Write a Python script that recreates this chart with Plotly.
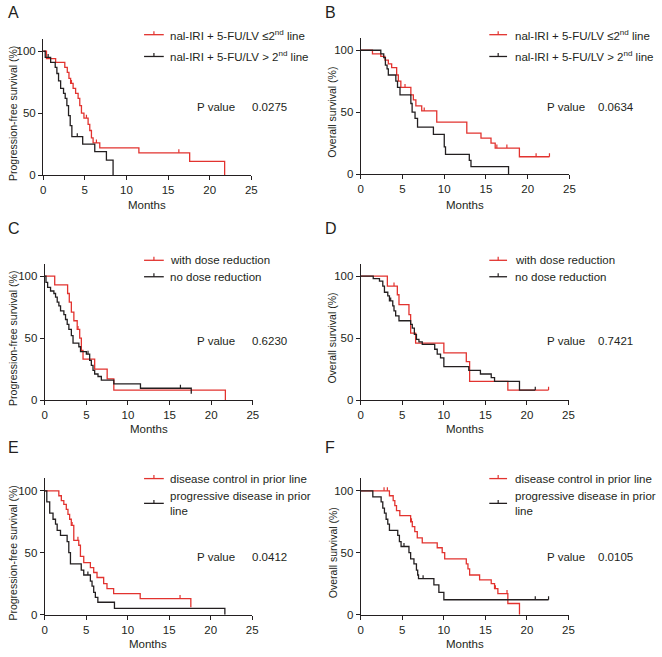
import plotly.graph_objects as go

W, H = 662, 657
RED = '#e2332f'
BLK = '#231f20'
FONT = 'Liberation Sans, Arial, sans-serif'

# ---------------- data (months, survival %) ----------------
# Panel A: PFS by treatment line
A_red_t = [0, 0.4, 1.5, 2.6, 2.9, 3.1, 3.3, 3.6, 3.9, 4.2, 4.4, 4.6, 4.9, 5.4, 5.6, 5.8, 6.0, 6.8, 11.5, 17.6, 21.8]
A_red_s = [100, 94, 91, 87, 83, 78, 74, 70, 66, 62, 56, 50, 46, 41, 36, 30, 26, 22, 18, 11, 0]
A_red_c = [3.4, 5.2, 6.4, 16.3]
A_blk_t = [0, 0.25, 0.9, 1.45, 1.65, 1.85, 2.1, 2.45, 2.65, 2.85, 3.05, 3.25, 3.45, 4.75, 6.2, 7.6, 8.4]
A_blk_s = [100, 95, 91, 87, 82, 76, 70, 66, 62, 56, 48, 40, 31, 25, 19, 12, 0]
A_blk_c = [0.6, 4.1]

# Panel B: OS by treatment line
B_red_t = [0, 1.4, 2.4, 2.9, 3.3, 3.7, 4.3, 4.5, 4.8, 6.0, 6.3, 6.6, 7.3, 9.1, 12.7, 14.4, 15.6, 16.1, 19.0]
B_red_s = [100, 97, 95, 92, 89, 86, 80, 75, 70, 64, 60, 55, 51, 42, 33, 29, 25, 21, 14]
B_red_c = [5.3, 7.6, 16.3, 17.5, 21.0, 22.6]
B_blk_t = [0, 2.4, 2.75, 2.95, 3.15, 3.3, 4.2, 4.4, 4.7, 6.0, 6.15, 6.5, 6.8, 8.7, 10.0, 10.15, 13.0, 13.2, 17.7]
B_blk_s = [100, 97, 94, 88, 85, 80, 75, 70, 64, 57, 50, 45, 38, 32, 22, 16, 11, 6, 0]
B_blk_c = []

# Panel C: PFS by dose reduction
C_red_t = [0, 1.2, 2.75, 2.95, 3.2, 3.5, 3.9, 4.2, 4.4, 4.6, 6.0, 7.5, 8.3, 21.7]
C_red_s = [100, 93, 86, 79, 71, 64, 57, 50, 40, 33, 25, 17, 8, 0]
C_red_c = [4.0]
C_blk_t = [0, 0.15, 0.35, 0.7, 1.1, 1.3, 1.5, 1.7, 1.9, 2.3, 2.5, 2.7, 2.9, 3.2, 3.4, 4.1, 4.3, 5.0, 5.4, 5.6, 5.8, 6.0, 6.4, 6.8, 8.3, 11.5, 17.6]
C_blk_s = [100, 95, 91, 88, 86, 83, 79, 76, 72, 69, 65, 61, 57, 52, 46, 43, 39, 37, 32, 28, 24, 21, 19, 16, 13, 9.5, 5]
C_blk_c = [5.2, 16.3]

# Panel D: OS by dose reduction
D_red_t = [0, 3.2, 4.4, 4.6, 5.8, 6.0, 6.6, 10.0, 12.7, 13.1, 17.7]
D_red_s = [100, 92, 85, 77, 69, 54, 46, 38, 31, 15, 8]
D_red_c = [4.0, 22.6]
D_blk_t = [0, 1.5, 2.25, 2.65, 2.85, 3.25, 3.45, 3.85, 4.0, 4.2, 4.6, 6.0, 6.2, 6.45, 6.7, 7.0, 7.4, 8.9, 9.2, 9.6, 10.0, 13.0, 14.4, 15.7, 16.1, 19.1]
D_blk_s = [100, 98, 96, 92, 87, 84, 80, 76, 72, 68, 64, 61, 58, 53, 49, 47, 45, 41, 37, 34, 27, 24, 21, 18, 15, 8]
D_blk_c = [3.6, 21.0]

# Panel E: PFS by response in prior line
E_red_t = [0, 1.7, 2.0, 2.3, 2.6, 2.8, 3.0, 3.2, 3.5, 4.1, 4.3, 4.7, 5.5, 5.9, 6.3, 7.1, 7.5, 8.3, 11.5, 17.6]
E_red_s = [100, 96, 92, 89, 85, 81, 77, 72, 60, 56, 47, 42, 38, 34, 30, 25, 21, 17, 13, 6]
E_red_c = [3.3, 4.0, 16.3]
E_blk_t = [0, 0.25, 0.6, 1.0, 1.3, 1.5, 1.9, 2.7, 2.9, 3.1, 4.4, 4.7, 5.5, 5.7, 5.9, 6.1, 6.4, 8.4, 21.7]
E_blk_s = [100, 91, 82, 77, 73, 68, 64, 59, 50, 41, 36, 32, 27, 23, 18, 14, 10, 5, 0]
E_blk_c = [5.2]

# Panel F: OS by response in prior line
F_red_t = [0, 3.45, 3.9, 4.1, 4.3, 4.7, 6.0, 6.2, 6.5, 6.8, 7.4, 9.2, 9.8, 10.1, 12.7, 12.9, 13.1, 14.3, 15.7, 16.1, 16.5, 17.7, 19.1]
F_red_s = [100, 96, 92, 88, 84, 80, 75, 71, 67, 62, 58, 54, 50, 45, 41, 37, 32, 28, 25, 21, 17, 9, 0]
F_red_c = [2.8, 3.2, 6.1, 16.2, 17.6]
F_blk_t = [0, 1.45, 2.45, 2.65, 2.85, 3.05, 3.25, 3.45, 4.45, 4.65, 4.85, 5.8, 6.0, 6.4, 6.7, 6.85, 6.95, 8.8, 9.4, 10.0]
F_blk_s = [100, 95, 91, 86, 82, 77, 73, 68, 64, 59, 55, 50, 45, 41, 36, 32, 29, 24, 18, 12]
F_blk_c = [5.2, 7.5, 21.0, 22.6]

x_ticks = [0, 5, 10, 15, 20, 25]
y_ticks = [0, 50, 100]
letters = ['A', 'B', 'C', 'D', 'E', 'F']
y_titles = ['Progression-free survival (%)', 'Overall survival (%)'] * 3
legend_labels = [
    ['nal-IRI + 5-FU/LV ≤2<sup>nd</sup> line', 'nal-IRI + 5-FU/LV > 2<sup>nd</sup> line'],
    ['nal-IRI + 5-FU/LV ≤2<sup>nd</sup> line', 'nal-IRI + 5-FU/LV > 2<sup>nd</sup> line'],
    ['with dose reduction', 'no dose reduction'],
    ['with dose reduction', 'no dose reduction'],
    ['disease control in prior line', 'progressive disease in prior<br>line'],
    ['disease control in prior line', 'progressive disease in prior<br>line'],
]
p_values = ['0.0275', '0.0634', '0.6230', '0.7421', '0.0412', '0.0105']

curves = [
    ((A_red_t, A_red_s, A_red_c), (A_blk_t, A_blk_s, A_blk_c)),
    ((B_red_t, B_red_s, B_red_c), (B_blk_t, B_blk_s, B_blk_c)),
    ((C_red_t, C_red_s, C_red_c), (C_blk_t, C_blk_s, C_blk_c)),
    ((D_red_t, D_red_s, D_red_c), (D_blk_t, D_blk_s, D_blk_c)),
    ((E_red_t, E_red_s, E_red_c), (E_blk_t, E_blk_s, E_blk_c)),
    ((F_red_t, F_red_s, F_red_c), (F_blk_t, F_blk_s, F_blk_c)),
]

# ---------------- layout geometry (pixels) ----------------
# (x of month 0, x of month 25, y of 0 %) ; axis spans 0..110 %
geom = [
    (40.7, 251.7, 176.7), (362.7, 574.3, 175.7),
    (42.3, 253.3, 403.7), (362.7, 573.3, 403.7),
    (42.3, 252.7, 620.3), (362.7, 573.3, 620.3),
]
PX_PER_PCT = 1.25


def px(x):
    return x / W


def py(y):
    return 1 - y / H


def step_at(ts, ss, t):
    v = ss[0]
    for a, b in zip(ts, ss):
        if a <= t:
            v = b
    return v


fig = go.Figure()
layout = dict(
    width=W, height=H, margin=dict(l=0, r=0, t=0, b=0),
    paper_bgcolor='white', plot_bgcolor='white', showlegend=False,
    font=dict(family=FONT, color=BLK, size=11),
)
annotations = []
shapes = []


def ann(text, x, y, size=11.5, xanchor='left', angle=0, align='left'):
    annotations.append(dict(
        text=text, x=px(x), y=py(y), xref='paper', yref='paper',
        xanchor=xanchor, yanchor='middle', showarrow=False, textangle=angle,
        align=align, font=dict(family=FONT, size=size, color=BLK)))


for i in range(6):
    n = i + 1
    sx = '' if n == 1 else str(n)
    x0, x1, yb = geom[i]
    yt = yb - 110 * PX_PER_PCT
    layout['xaxis' + sx] = dict(
        domain=[px(x0), px(x1)], range=[0, 25], anchor='y' + sx,
        tickvals=x_ticks, ticks='outside', ticklen=4, tickwidth=1.2, tickcolor=BLK,
        showline=True, linecolor=BLK, linewidth=1.2, showgrid=False, zeroline=False,
        tickfont=dict(size=11.5, color=BLK, family=FONT))
    layout['yaxis' + sx] = dict(
        domain=[py(yb), py(yt)], range=[0, 110], anchor='x' + sx,
        tickvals=y_ticks, ticks='outside', ticklen=4, tickwidth=1.2, tickcolor=BLK,
        showline=True, linecolor=BLK, linewidth=1.2, showgrid=False, zeroline=False,
        tickfont=dict(size=11.5, color=BLK, family=FONT))

    for (ts, ss, cs), col in zip(curves[i], [RED, BLK]):
        end = max([ts[-1]] + cs)
        xs = list(ts) + ([end] if end > ts[-1] else [])
        ys = list(ss) + ([ss[-1]] if end > ts[-1] else [])
        fig.add_trace(go.Scatter(x=xs, y=ys, mode='lines', line=dict(color=col, width=1.3, shape='hv'),
                                 xaxis='x' + sx, yaxis='y' + sx, hoverinfo='skip'))
        tx, ty = [], []
        for c in cs:
            v = step_at(ts, ss, c)
            tx += [c, c, None]
            ty += [v, v + 2.8, None]
        if tx:
            fig.add_trace(go.Scatter(x=tx, y=ty, mode='lines', line=dict(color=col, width=1.2),
                                     xaxis='x' + sx, yaxis='y' + sx, hoverinfo='skip'))

    # texts
    left = i % 2 == 0
    row = i // 2
    letter_y = [12.5, 231, 452][row]
    ann(letters[i], 3 if left else 324, letter_y, size=16)
    y100 = yb - 100 * PX_PER_PCT
    ann(y_titles[i], 10 if left else 334, (y100 + yb) / 2, size=10.5, xanchor='center', angle=-90)
    ann('Months', (x0 + x1) / 2, [207, 433, 650][row], size=11.5, xanchor='center')
    # legend
    lx0, lx1, tx0 = (143, 163, 167) if left else (493, 511, 517.5)
    leg_y = [(35, 57), (262.7, 279.3), (483, 508)][row]
    for lab, col, ly in zip(legend_labels[i], [RED, BLK], leg_y):
        shapes.append(dict(type='line', xref='paper', yref='paper', x0=px(lx0), x1=px(lx1),
                           y0=py(ly), y1=py(ly), line=dict(color=col, width=1.3)))
        mx = (lx0 + lx1) / 2
        shapes.append(dict(type='line', xref='paper', yref='paper', x0=px(mx), x1=px(mx),
                           y0=py(ly), y1=py(ly - 3.5), line=dict(color=col, width=1.2)))
        ann(lab, tx0, ly, size=11.5)
    # p value
    pv_y = [108, 344, 562][row]
    ann('P value', 195 if left else 549, pv_y, size=11.5)
    ann(p_values[i], 250 if left else 601, pv_y, size=11.5)

layout['annotations'] = annotations
layout['shapes'] = shapes
fig.update_layout(**layout)
fig.write_html('out.html', config={'displayModeBar': False},
               post_script="document.body.style.margin='0px';document.body.style.overflow='hidden';")
